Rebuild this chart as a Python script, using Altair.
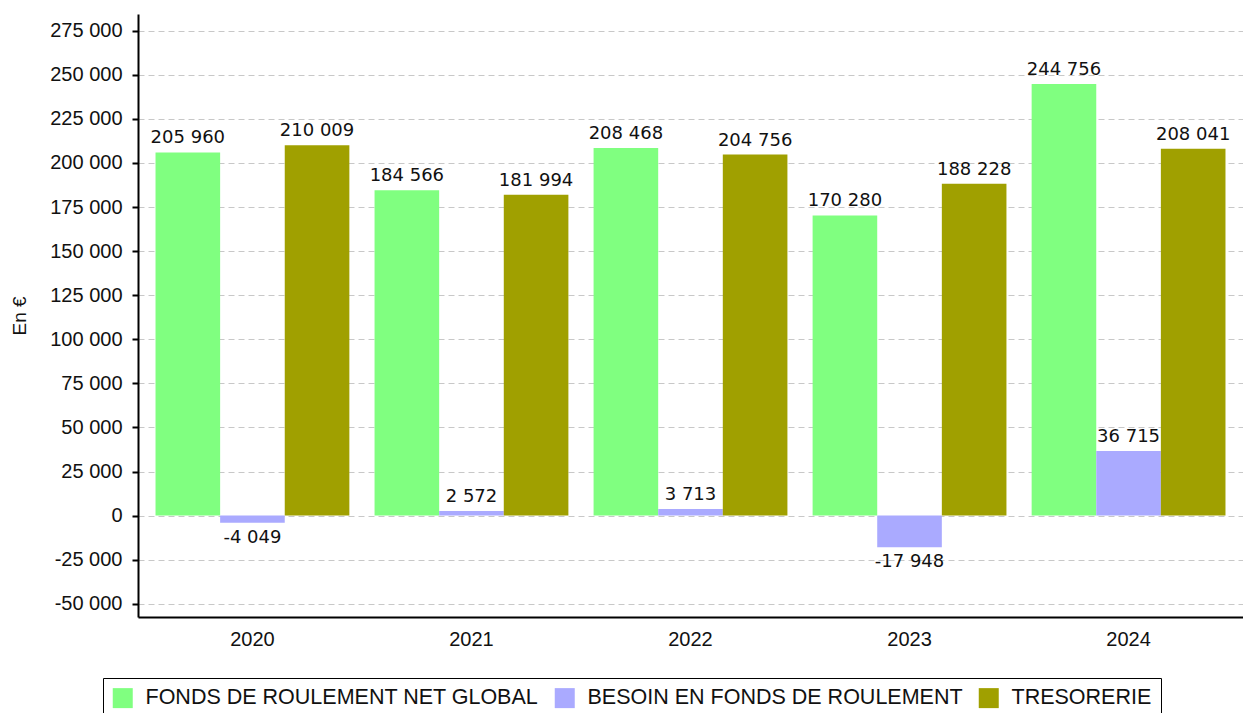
import altair as alt
import pandas as pd

years = ["2020", "2021", "2022", "2023", "2024"]
series = ["FONDS DE ROULEMENT NET GLOBAL", "BESOIN EN FONDS DE ROULEMENT", "TRESORERIE"]
frng = [205960, 184566, 208468, 170280, 244756]
bfr = [-4049, 2572, 3713, -17948, 36715]
treso = [210009, 181994, 204756, 188228, 208041]
colors = ["#80FF80", "#AAAAFF", "#A0A000"]
y_ticks = list(range(-50000, 275001, 25000))

rows = []
for i, yr in enumerate(years):
    for s, vals in zip(series, [frng, bfr, treso]):
        v = vals[i]
        rows.append({"year": yr, "series": s, "value": v,
                     "label": f"{v:,}".replace(",", " ")})
df = pd.DataFrame(rows)

x_enc = alt.X("year:N", sort=years, title=None,
              scale=alt.Scale(paddingInner=0.115, paddingOuter=0.08),
              axis=alt.Axis(labelAngle=0, ticks=False, grid=False, domainColor="black",
                            domainWidth=2, labelFont="Liberation Sans", labelFontSize=20,
                            labelColor="#111111", labelPadding=12))
xo_enc = alt.XOffset("series:N", sort=series, scale=alt.Scale(paddingInner=0, paddingOuter=0))
y_enc = alt.Y("value:Q", title="En €",
              scale=alt.Scale(domain=[-57500, 284500], nice=False, zero=False),
              axis=alt.Axis(values=y_ticks,
                            labelExpr="replace(replace(format(datum.value, ','), ',', ' '), '\u2212', '-')",
                            domainColor="black", domainWidth=2, tickColor="black",
                            tickSize=6, tickWidth=2, grid=True, gridColor="#c8c8c8",
                            gridDash=[6, 4], labelFont="Liberation Sans", labelFontSize=20,
                            labelColor="#111111", labelPadding=10,
                            titleFont="Liberation Sans", titleFontSize=19,
                            titleFontWeight="normal", titleColor="#111111", titlePadding=20))

base = alt.Chart(df)

bars = base.mark_bar().encode(
    x=x_enc, xOffset=xo_enc, y=y_enc,
    color=alt.Color("series:N", sort=series,
                    scale=alt.Scale(domain=series, range=colors),
                    legend=alt.Legend(orient="none", legendX=-35, legendY=664,
                                      direction="horizontal", title=None,
                                      strokeColor="black", padding=9,
                                      symbolType="square", symbolSize=400,
                                      symbolStrokeWidth=0, labelLimit=0,
                                      labelFont="Liberation Sans",
                                      labelFontSize=21.5, labelColor="#111111",
                                      labelOffset=12, columnPadding=15)),
)

pos_labels = base.transform_filter("datum.value >= 0").mark_text(
    baseline="bottom", dy=-5, font="DejaVu Sans", fontSize=18, color="#111111"
).encode(x=alt.X("year:N", sort=years), xOffset=xo_enc, y="value:Q", text="label:N")

neg_labels = base.transform_filter("datum.value < 0").mark_text(
    baseline="top", dy=6, font="DejaVu Sans", fontSize=18, color="#111111"
).encode(x=alt.X("year:N", sort=years), xOffset=xo_enc, y="value:Q", text="label:N")

chart = alt.layer(bars, pos_labels, neg_labels).properties(
    width=1105, height=603,
    autosize=alt.AutoSizeParams(type="none"),
    padding={"left": 130, "top": 6, "right": 0, "bottom": 96},
).configure_view(stroke=None)

chart.save("out.html", embed_options={"renderer": "svg", "actions": False})
